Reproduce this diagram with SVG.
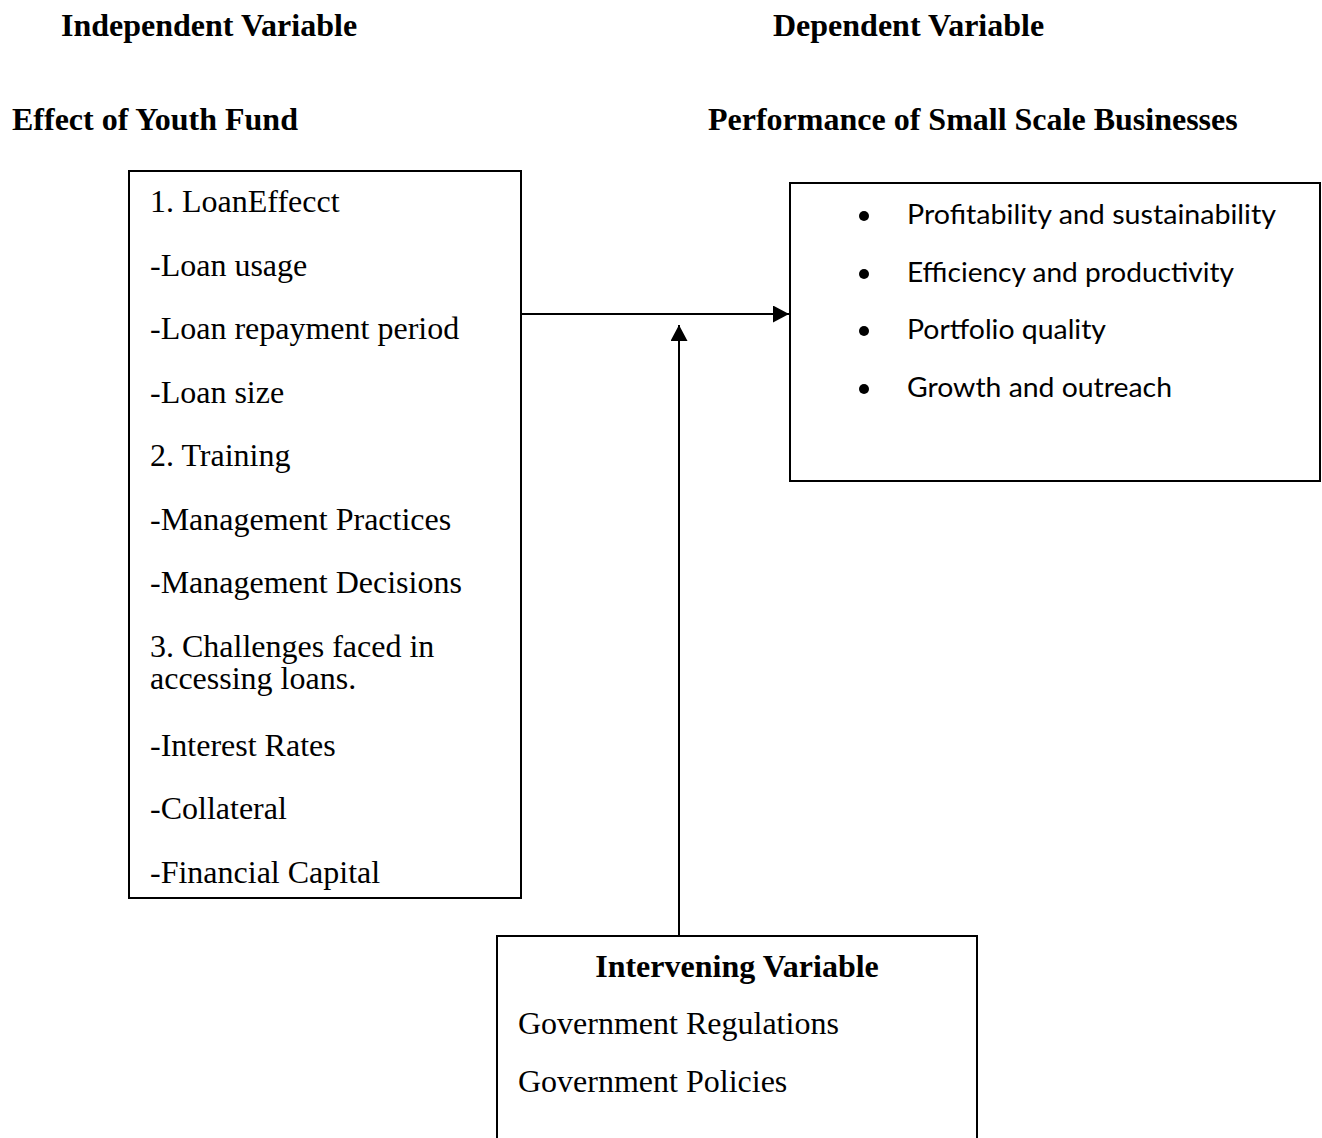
<svg xmlns="http://www.w3.org/2000/svg" width="1322" height="1138" viewBox="0 0 1322 1138">
<style>
.box{fill:#fff;stroke:#000;stroke-width:2}
.t{font-family:"Liberation Serif","Times New Roman",serif;font-size:32px;fill:#000}
.b{font-family:"Liberation Serif","Times New Roman",serif;font-size:32px;font-weight:bold;fill:#000}
.c{font-family:Lato,"Open Sans",sans-serif;font-size:27px;fill:#000}
.conn{stroke:#000;stroke-width:2;fill:none}
</style>
<defs>
<marker id="ah" viewBox="0 0 10 10" refX="10" refY="5" markerWidth="16" markerHeight="17" markerUnits="userSpaceOnUse" orient="auto" preserveAspectRatio="none">
<path d="M0,0 L10,5 L0,10 Z" fill="#000"/>
</marker>
</defs>
<rect width="1322" height="1138" fill="#fff"/>
<g id="headings">
<text class="b" x="61" y="36">Independent Variable</text>
<text class="b" x="773" y="36">Dependent Variable</text>
<text class="b" x="12" y="130">Effect of Youth Fund</text>
<text class="b" x="708" y="130">Performance of Small Scale Businesses</text>
</g>
<g id="connectors">
<line class="conn" x1="521" y1="314" x2="789" y2="314" marker-end="url(#ah)"/>
<line class="conn" x1="679" y1="936" x2="679" y2="325" marker-end="url(#ah)"/>
</g>
<g id="independent">
<rect class="box" x="129" y="171" width="392" height="727"/>
<text class="t" x="150" y="212">1. LoanEffecct</text>
<text class="t" x="150" y="276">-Loan usage</text>
<text class="t" x="150" y="339">-Loan repayment period</text>
<text class="t" x="150" y="403">-Loan size</text>
<text class="t" x="150" y="466">2. Training</text>
<text class="t" x="150" y="530">-Management Practices</text>
<text class="t" x="150" y="593">-Management Decisions</text>
<text class="t" x="150" y="657">3. Challenges faced in</text>
<text class="t" x="150" y="689">accessing loans.</text>
<text class="t" x="150" y="756">-Interest Rates</text>
<text class="t" x="150" y="819">-Collateral</text>
<text class="t" x="150" y="883">-Financial Capital</text>
</g>
<g id="dependent">
<rect class="box" x="790" y="183" width="530" height="298"/>
<circle cx="864" cy="216" r="5"/>
<circle cx="864" cy="274" r="5"/>
<circle cx="864" cy="331" r="5"/>
<circle cx="864" cy="389" r="5"/>
<text class="c" x="907" y="224" textLength="369" lengthAdjust="spacingAndGlyphs">Profitability and sustainability</text>
<text class="c" x="907" y="282" textLength="327" lengthAdjust="spacingAndGlyphs">Efficiency and productivity</text>
<text class="c" x="907" y="339" textLength="199" lengthAdjust="spacingAndGlyphs">Portfolio quality</text>
<text class="c" x="907" y="397" textLength="265" lengthAdjust="spacingAndGlyphs">Growth and outreach</text>
</g>
<g id="intervening">
<rect class="box" x="497" y="936" width="480" height="230"/>
<text class="b" x="737" y="977" text-anchor="middle">Intervening Variable</text>
<text class="t" x="518" y="1034">Government Regulations</text>
<text class="t" x="518" y="1092">Government Policies</text>
</g>
</svg>
